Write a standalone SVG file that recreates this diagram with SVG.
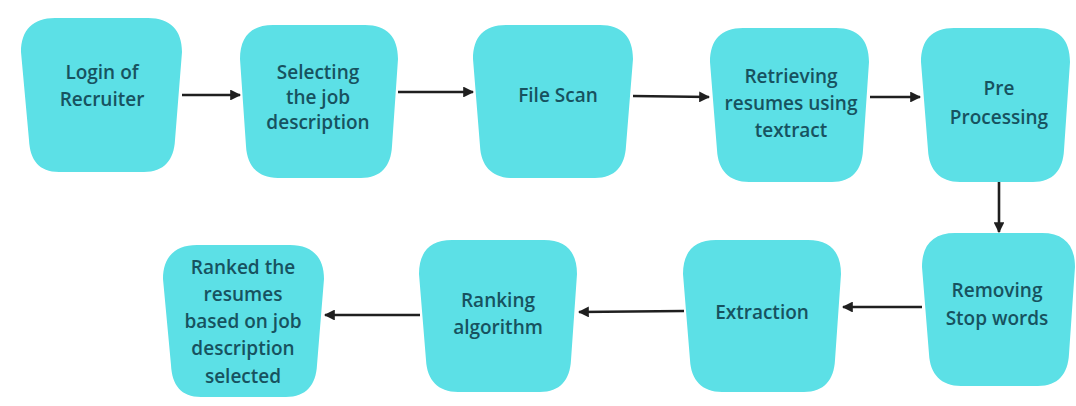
<svg xmlns="http://www.w3.org/2000/svg" width="1076" height="406" viewBox="0 0 1076 406">
  <defs>
    <marker id="arrow" viewBox="0 0 10 10" refX="9" refY="5" markerWidth="4.2" markerHeight="4.2" orient="auto" markerUnits="strokeWidth">
      <path d="M0,0 L10,5 L0,10 Z" fill="#1f1f1f"/>
    </marker>
  </defs>
  <style>
    .box { fill: #5ce0e6; }
    .label { font-family: "Open Sans", "Noto Sans", sans-serif; font-size: 19px; font-weight: 600; fill: #17525f; text-anchor: middle; }
    .edge { stroke: #1f1f1f; stroke-width: 2.6; fill: none; marker-end: url(#arrow); }
  </style>
  <rect width="1076" height="406" fill="#ffffff"/>

  <!-- soft, slightly tapered process boxes -->
  <g id="n1">
    <path class="box" d="M55,18 L148,18 C170,18 182,30 182,52 L175,140 C174,160 164,172 144,172 L59,172 C39,172 30,160 29,140 L21,52 C21,30 33,18 55,18 Z"/>
    <text class="label" x="102" y="79">Login of</text>
    <text class="label" x="102" y="106">Recruiter</text>
  </g>
  <g id="n2">
    <path class="box" d="M273,25 L365,25 C387,25 398,37 398,59 L392,146 C391,166 381,178 361,178 L278,178 C258,178 247,166 246,146 L240,59 C240,37 251,25 273,25 Z"/>
    <text class="label" x="318" y="79">Selecting</text>
    <text class="label" x="318" y="104">the job</text>
    <text class="label" x="318" y="129">description</text>
  </g>
  <g id="n3">
    <path class="box" d="M506,25 L600,25 C622,25 633,37 633,59 L626,146 C625,166 615,178 595,178 L512,178 C492,178 481,166 480,146 L473,59 C473,37 484,25 506,25 Z"/>
    <text class="label" x="558" y="102">File Scan</text>
  </g>
  <g id="n4">
    <path class="box" d="M743,28 L836,28 C858,28 869,40 869,62 L863,150 C862,170 852,182 832,182 L749,182 C729,182 718,170 717,150 L710,62 C710,40 721,28 743,28 Z"/>
    <text class="label" x="791" y="83">Retrieving</text>
    <text class="label" x="791" y="110">resumes using</text>
    <text class="label" x="791" y="137">textract</text>
  </g>
  <g id="n5">
    <path class="box" d="M954,28 L1037,28 C1059,28 1070,40 1070,62 L1064,150 C1063,170 1053,182 1033,182 L960,182 C940,182 929,170 928,150 L921,62 C921,40 932,28 954,28 Z"/>
    <text class="label" x="999" y="95">Pre</text>
    <text class="label" x="999" y="124">Processing</text>
  </g>
  <g id="n6">
    <path class="box" d="M955,233 L1042,233 C1064,233 1075,245 1075,267 L1069,354 C1068,374 1058,386 1038,386 L961,386 C941,386 930,374 929,354 L922,267 C922,245 933,233 955,233 Z"/>
    <text class="label" x="997" y="297">Removing</text>
    <text class="label" x="997" y="325">Stop words</text>
  </g>
  <g id="n7">
    <path class="box" d="M716,240 L808,240 C830,240 841,252 841,274 L835,360 C834,380 824,392 804,392 L722,392 C702,392 691,380 690,360 L683,274 C683,252 694,240 716,240 Z"/>
    <text class="label" x="762" y="319">Extraction</text>
  </g>
  <g id="n8">
    <path class="box" d="M452,240 L544,240 C566,240 577,252 577,274 L571,360 C570,380 560,392 540,392 L458,392 C438,392 427,380 426,360 L419,274 C419,252 430,240 452,240 Z"/>
    <text class="label" x="498" y="307">Ranking</text>
    <text class="label" x="498" y="334">algorithm</text>
  </g>
  <g id="n9">
    <path class="box" d="M197,245 L290,245 C312,245 324,257 324,279 L317,365 C316,385 306,397 286,397 L201,397 C181,397 172,385 171,365 L163,279 C163,257 175,245 197,245 Z"/>
    <text class="label" x="243" y="274">Ranked the</text>
    <text class="label" x="243" y="301">resumes</text>
    <text class="label" x="243" y="328">based on job</text>
    <text class="label" x="243" y="355">description</text>
    <text class="label" x="243" y="383">selected</text>
  </g>

  <!-- flow connectors -->
  <g id="connectors">
    <line class="edge" x1="182" y1="95" x2="240" y2="95"/>
    <line class="edge" x1="398" y1="92" x2="473" y2="92"/>
    <line class="edge" x1="633" y1="96" x2="709" y2="97"/>
    <line class="edge" x1="870" y1="97" x2="920" y2="97"/>
    <line class="edge" x1="999" y1="182" x2="999" y2="232"/>
    <line class="edge" x1="922" y1="307" x2="843" y2="307"/>
    <line class="edge" x1="684" y1="311" x2="579" y2="312"/>
    <line class="edge" x1="420" y1="315" x2="325" y2="315"/>
  </g>
</svg>
